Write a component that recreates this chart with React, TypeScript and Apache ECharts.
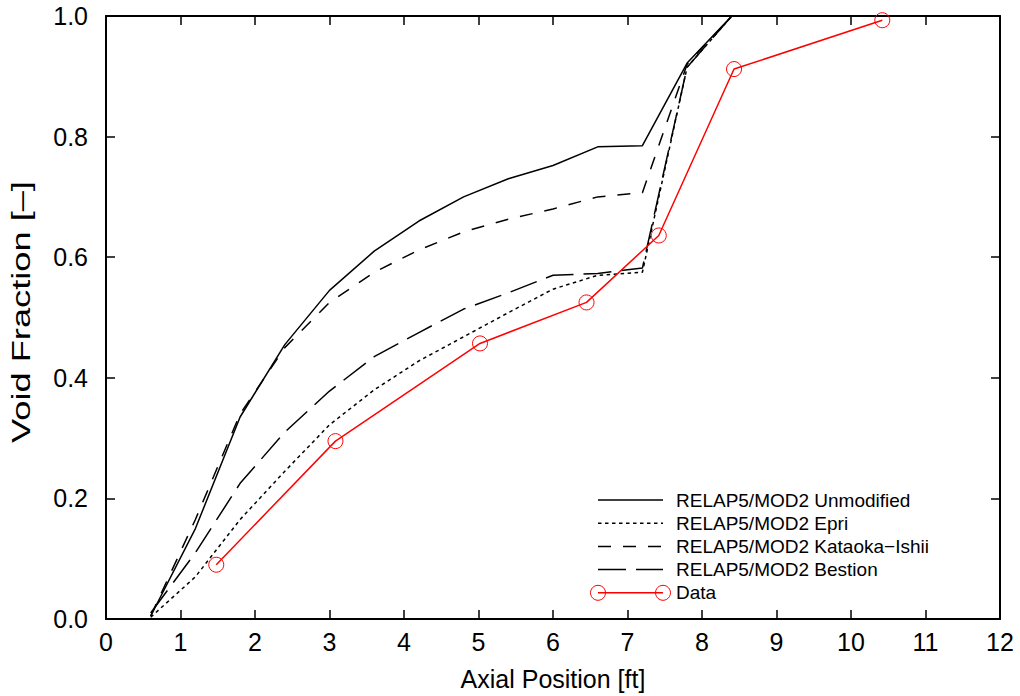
import React, { useEffect, useRef } from "react";
import * as echarts from "echarts";

const modelX = [0.6, 1.2, 1.8, 2.4, 3.0, 3.6, 4.2, 4.8, 5.4, 6.0, 6.6, 7.2, 7.8, 8.4, 12];
const unmodified = [0.005, 0.15, 0.335, 0.455, 0.545, 0.61, 0.66, 0.7, 0.73, 0.752, 0.783, 0.785, 0.922, 1.0, 1.0];
const epri = [0.003, 0.07, 0.165, 0.245, 0.322, 0.38, 0.428, 0.468, 0.508, 0.547, 0.57, 0.575, 0.915, 1.0, 1.0];
const kataoka = [0.005, 0.165, 0.34, 0.45, 0.525, 0.575, 0.612, 0.642, 0.663, 0.68, 0.7, 0.707, 0.92, 1.0, 1.0];
const bestion = [0.01, 0.11, 0.225, 0.31, 0.378, 0.435, 0.475, 0.514, 0.541, 0.57, 0.573, 0.582, 0.915, 1.0, 1.0];
const dataX = [1.48, 3.08, 5.02, 6.45, 7.42, 8.43, 10.42];
const dataY = [0.09, 0.295, 0.457, 0.525, 0.636, 0.912, 0.993];

const seriesNames = [
  "RELAP5/MOD2 Unmodified",
  "RELAP5/MOD2 Epri",
  "RELAP5/MOD2 Kataoka\u2212Ishii",
  "RELAP5/MOD2 Bestion",
  "Data",
];
const yTitle = "Void Fraction [\u2013]";
const xTitle = "Axial Position [ft]";
const dashes: (number[] | null)[] = [null, [3.5, 3.5], [13, 12], [28, 10], null];
const FONT = "Liberation Sans";

const zip = (xs: number[], ys: number[]) => xs.map((x, i) => [x, ys[i]]);

export default function App() {
  const ref = useRef<HTMLDivElement>(null);
  useEffect(() => {
    const chart = echarts.init(ref.current!, null, { renderer: "svg" });
    const modelSeries = [unmodified, epri, kataoka, bestion].map((ys, i) => ({
      name: seriesNames[i],
      type: "line",
      data: zip(modelX, ys),
      showSymbol: false,
      symbol: "none",
      lineStyle: { color: "#000", width: 1.5, type: dashes[i] ? dashes[i] : "solid" },
      z: 2,
    }));
    const legendX0 = 598;
    const legendX1 = 663;
    const legendY0 = 500;
    const legendDy = 23.2;
    const graphics: any[] = [];
    seriesNames.forEach((name, i) => {
      const y = legendY0 + i * legendDy;
      const isData = i === 4;
      graphics.push({
        type: "line",
        shape: { x1: legendX0, y1: y, x2: legendX1, y2: y },
        style: {
          stroke: isData ? "#ff0000" : "#000",
          lineWidth: 1.5,
          lineDash: dashes[i] ? dashes[i] : null,
        },
      });
      if (isData) {
        [legendX0, legendX1].forEach((cx) =>
          graphics.push({
            type: "circle",
            shape: { cx, cy: y, r: 7.5 },
            style: { fill: "none", stroke: "#ff0000", lineWidth: 1 },
          })
        );
      }
      graphics.push({
        type: "text",
        x: 676,
        y,
        style: {
          text: name,
          fill: "#000",
          font: `19px "${FONT}"`,
          verticalAlign: "middle",
          align: "left",
        },
      });
    });
    graphics.push({
      type: "text",
      x: 22,
      y: 312,
      rotation: Math.PI / 2,
      scaleX: 1.45,
      style: {
        text: yTitle,
        fill: "#000",
        font: `25px "${FONT}"`,
        align: "center",
        verticalAlign: "middle",
      },
    });

    const axisCommon = {
      min: 0,
      axisLine: { show: true, onZero: false, lineStyle: { color: "#000", width: 2 } },
      axisTick: { show: true, inside: true, length: 9, lineStyle: { color: "#000", width: 1.5 } },
      splitLine: { show: false },
    };

    chart.setOption({
      animation: false,
      backgroundColor: "#fff",
      grid: { left: 106, right: 20, top: 16, bottom: 75, containLabel: false },
      xAxis: [
        {
          ...axisCommon,
          type: "value",
          max: 12,
          interval: 1,
          position: "bottom",
          name: xTitle,
          nameLocation: "middle",
          nameGap: 47,
          nameTextStyle: { color: "#000", fontSize: 25, fontFamily: FONT },
          axisLabel: { color: "#000", fontSize: 25, fontFamily: FONT, margin: 10 },
        },
        {
          ...axisCommon,
          type: "value",
          max: 12,
          interval: 1,
          position: "top",
          axisLabel: { show: false },
        },
      ],
      yAxis: [
        {
          ...axisCommon,
          type: "value",
          max: 1,
          interval: 0.2,
          position: "left",
          axisLabel: {
            color: "#000",
            fontSize: 25,
            fontFamily: FONT,
            margin: 18,
            formatter: (v: number) => v.toFixed(1),
          },
        },
        {
          ...axisCommon,
          type: "value",
          max: 1,
          interval: 0.2,
          position: "right",
          axisLabel: { show: false },
        },
      ],
      series: [
        ...modelSeries,
        {
          name: seriesNames[4],
          type: "line",
          data: zip(dataX, dataY),
          symbol: "circle",
          symbolSize: 15,
          showSymbol: true,
          itemStyle: { color: "rgba(0,0,0,0)", borderColor: "#ff0000", borderWidth: 1 },
          lineStyle: { color: "#ff0000", width: 1.5 },
          z: 3,
        },
      ],
      graphic: graphics,
    });
    return () => chart.dispose();
  }, []);
  return (
    <div
      ref={ref}
      style={{ position: "fixed", left: 0, top: 0, width: 1020, height: 696, background: "#fff" }}
    />
  );
}
